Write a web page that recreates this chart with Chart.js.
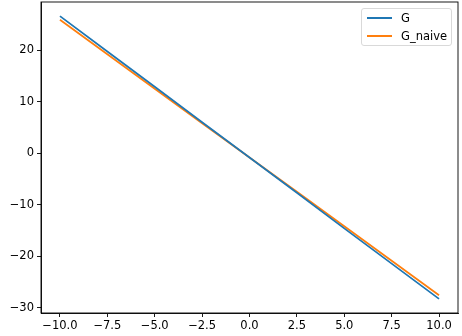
<!DOCTYPE html>
<html>
<head>
<meta charset="utf-8">
<script src="https://cdn.jsdelivr.net/npm/chart.js@4"></script>
<style>
  html, body { margin: 0; padding: 0; background: #fff; }
  #wrap { position: relative; width: 462px; height: 336px; }
  #legend {
    position: absolute; left: 361px; top: 8px; width: 91px; height: 38px;
    border: 1px solid #d9d9d9; border-radius: 3px; background: rgba(255,255,255,0.8);
    font-family: "DejaVu Sans", sans-serif; font-size: 11.5px; color: #000;
    box-sizing: border-box;
  }
  .item { position: absolute; left: 0; height: 14px; line-height: 14px; white-space: nowrap; }
  .swatch { position: absolute; left: 5px; top: 6px; width: 25px; height: 2px; }
  .lbl { position: absolute; left: 39px; top: 0; }
</style>
</head>
<body>
<div id="wrap">
  <canvas id="c" width="462" height="336"></canvas>
  <div id="legend"></div>
</div>
<script>
const xValues = [-10, -7.5, -5, -2.5, 0, 2.5, 5, 7.5, 10];
const gValues = [26.6, 19.75, 12.9, 6.0, -0.85, -7.7, -14.6, -21.45, -28.3];
const gNaiveValues = [25.9, 19.2, 12.5, 5.8, -0.85, -7.5, -14.2, -20.9, -27.6];
const seriesNames = ["G", "G_naive"];
const seriesColors = ["#1f77b4", "#ff7f0e"];
const xTicks = [-10, -7.5, -5, -2.5, 0, 2.5, 5, 7.5, 10];
const yTicks = [-30, -20, -10, 0, 10, 20];

const font = { family: "DejaVu Sans", size: 11.5 };
const fmt = (v, dec) => {
  const s = Math.abs(v).toFixed(dec);
  return (v < 0 ? "\u2212" : "") + s;
};

const frame = {
  id: "frame",
  afterDraw(chart) {
    const a = chart.chartArea, ctx = chart.ctx;
    ctx.save();
    ctx.strokeStyle = "#000";
    ctx.lineWidth = 0.9;
    ctx.strokeRect(a.left, a.top, a.right - a.left, a.bottom - a.top);
    ctx.restore();
  }
};

const chart = new Chart(document.getElementById("c"), {
  type: "line",
  data: {
    datasets: [
      { label: seriesNames[0], data: xValues.map((x, i) => ({ x, y: gValues[i] })),
        borderColor: seriesColors[0], backgroundColor: seriesColors[0], borderWidth: 1.75,
        pointRadius: 0, fill: false, tension: 0 },
      { label: seriesNames[1], data: xValues.map((x, i) => ({ x, y: gNaiveValues[i] })),
        borderColor: seriesColors[1], backgroundColor: seriesColors[1], borderWidth: 1.75,
        pointRadius: 0, fill: false, tension: 0 }
    ]
  },
  options: {
    responsive: false,
    animation: false,
    devicePixelRatio: 1,
    layout: { padding: { top: 2, right: 4, left: 0, bottom: 0 } },
    plugins: { legend: { display: false }, tooltip: { enabled: false } },
    scales: {
      x: {
        type: "linear", min: -11, max: 11,
        afterBuildTicks: s => { s.ticks = xTicks.map(v => ({ value: v })); },
        afterFit: s => { s.height = 23; s.paddingLeft = 0; s.paddingRight = 0; },
        ticks: { callback: v => fmt(v, 1), font, color: "#000", padding: 2, maxRotation: 0, autoSkip: false },
        grid: { drawOnChartArea: false, tickLength: 4, color: "#000", lineWidth: 0.9 },
        border: { color: "#000", width: 0.9 }
      },
      y: {
        type: "linear", min: -31.04, max: 29.35,
        afterBuildTicks: s => { s.ticks = yTicks.map(v => ({ value: v })); },
        afterFit: s => { s.width = 41; s.paddingTop = 0; s.paddingBottom = 0; },
        ticks: { callback: v => fmt(v, 0), font, color: "#000", padding: 3, autoSkip: false },
        grid: { drawOnChartArea: false, tickLength: 4, color: "#000", lineWidth: 0.9 },
        border: { color: "#000", width: 0.9 }
      }
    }
  },
  plugins: [frame]
});

const legend = document.getElementById("legend");
chart.data.datasets.forEach((ds, i) => {
  const item = document.createElement("div");
  item.className = "item";
  item.style.top = (2 + i * 18) + "px";
  item.style.width = "100%";
  const sw = document.createElement("span");
  sw.className = "swatch";
  sw.style.backgroundColor = ds.borderColor;
  const lb = document.createElement("span");
  lb.className = "lbl";
  lb.textContent = ds.label;
  item.appendChild(sw);
  item.appendChild(lb);
  legend.appendChild(item);
});
</script>
</body>
</html>
